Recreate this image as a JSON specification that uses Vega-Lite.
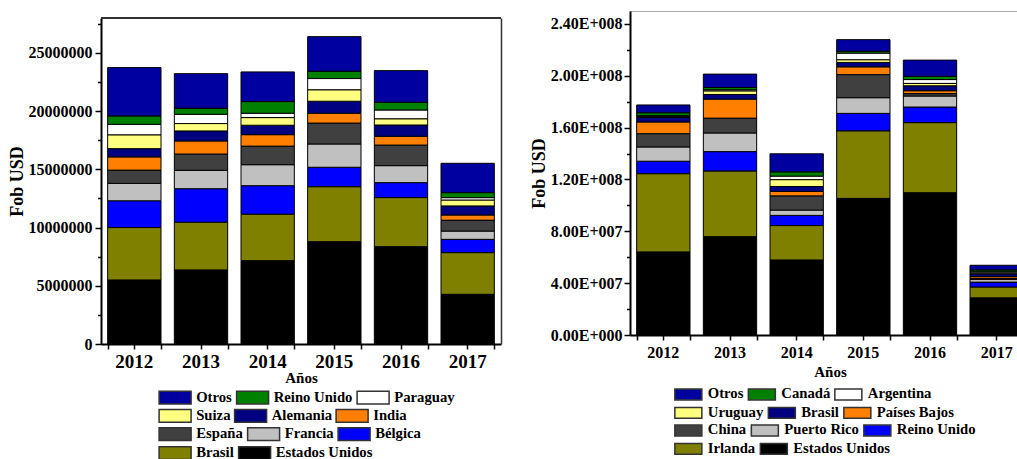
{
  "$schema": "https://vega.github.io/schema/vega-lite/v6.json",
  "background": "white",
  "padding": {"left": 8, "top": 10, "right": -14, "bottom": 0},
  "spacing": 27,
  "datasets": {
    "izq": [
      {"anio": "2012", "pais": "Estados Unidos", "n": 1, "fob": 5500000},
      {"anio": "2012", "pais": "Brasil", "n": 2, "fob": 4500000},
      {"anio": "2012", "pais": "Bélgica", "n": 3, "fob": 2300000},
      {"anio": "2012", "pais": "Francia", "n": 4, "fob": 1500000},
      {"anio": "2012", "pais": "España", "n": 5, "fob": 1120000},
      {"anio": "2012", "pais": "India", "n": 6, "fob": 1150000},
      {"anio": "2012", "pais": "Alemania", "n": 7, "fob": 710000},
      {"anio": "2012", "pais": "Suiza", "n": 8, "fob": 1170000},
      {"anio": "2012", "pais": "Paraguay", "n": 9, "fob": 920000},
      {"anio": "2012", "pais": "Reino Unido", "n": 10, "fob": 720000},
      {"anio": "2012", "pais": "Otros", "n": 11, "fob": 4150000},
      {"anio": "2013", "pais": "Estados Unidos", "n": 1, "fob": 6360000},
      {"anio": "2013", "pais": "Brasil", "n": 2, "fob": 4090000},
      {"anio": "2013", "pais": "Bélgica", "n": 3, "fob": 2890000},
      {"anio": "2013", "pais": "Francia", "n": 4, "fob": 1580000},
      {"anio": "2013", "pais": "España", "n": 5, "fob": 1380000},
      {"anio": "2013", "pais": "India", "n": 6, "fob": 1140000},
      {"anio": "2013", "pais": "Alemania", "n": 7, "fob": 860000},
      {"anio": "2013", "pais": "Suiza", "n": 8, "fob": 630000},
      {"anio": "2013", "pais": "Paraguay", "n": 9, "fob": 800000},
      {"anio": "2013", "pais": "Reino Unido", "n": 10, "fob": 520000},
      {"anio": "2013", "pais": "Otros", "n": 11, "fob": 2970000},
      {"anio": "2014", "pais": "Estados Unidos", "n": 1, "fob": 7160000},
      {"anio": "2014", "pais": "Brasil", "n": 2, "fob": 3980000},
      {"anio": "2014", "pais": "Bélgica", "n": 3, "fob": 2460000},
      {"anio": "2014", "pais": "Francia", "n": 4, "fob": 1800000},
      {"anio": "2014", "pais": "España", "n": 5, "fob": 1580000},
      {"anio": "2014", "pais": "India", "n": 6, "fob": 1000000},
      {"anio": "2014", "pais": "Alemania", "n": 7, "fob": 810000},
      {"anio": "2014", "pais": "Suiza", "n": 8, "fob": 650000},
      {"anio": "2014", "pais": "Paraguay", "n": 9, "fob": 380000},
      {"anio": "2014", "pais": "Reino Unido", "n": 10, "fob": 1000000},
      {"anio": "2014", "pais": "Otros", "n": 11, "fob": 2550000},
      {"anio": "2015", "pais": "Estados Unidos", "n": 1, "fob": 8790000},
      {"anio": "2015", "pais": "Brasil", "n": 2, "fob": 4710000},
      {"anio": "2015", "pais": "Bélgica", "n": 3, "fob": 1680000},
      {"anio": "2015", "pais": "Francia", "n": 4, "fob": 2000000},
      {"anio": "2015", "pais": "España", "n": 5, "fob": 1780000},
      {"anio": "2015", "pais": "India", "n": 6, "fob": 860000},
      {"anio": "2015", "pais": "Alemania", "n": 7, "fob": 1030000},
      {"anio": "2015", "pais": "Suiza", "n": 8, "fob": 970000},
      {"anio": "2015", "pais": "Paraguay", "n": 9, "fob": 980000},
      {"anio": "2015", "pais": "Reino Unido", "n": 10, "fob": 630000},
      {"anio": "2015", "pais": "Otros", "n": 11, "fob": 2970000},
      {"anio": "2016", "pais": "Estados Unidos", "n": 1, "fob": 8360000},
      {"anio": "2016", "pais": "Brasil", "n": 2, "fob": 4210000},
      {"anio": "2016", "pais": "Bélgica", "n": 3, "fob": 1290000},
      {"anio": "2016", "pais": "Francia", "n": 4, "fob": 1460000},
      {"anio": "2016", "pais": "España", "n": 5, "fob": 1750000},
      {"anio": "2016", "pais": "India", "n": 6, "fob": 770000},
      {"anio": "2016", "pais": "Alemania", "n": 7, "fob": 970000},
      {"anio": "2016", "pais": "Suiza", "n": 8, "fob": 520000},
      {"anio": "2016", "pais": "Paraguay", "n": 9, "fob": 770000},
      {"anio": "2016", "pais": "Reino Unido", "n": 10, "fob": 660000},
      {"anio": "2016", "pais": "Otros", "n": 11, "fob": 2720000},
      {"anio": "2017", "pais": "Estados Unidos", "n": 1, "fob": 4270000},
      {"anio": "2017", "pais": "Brasil", "n": 2, "fob": 3570000},
      {"anio": "2017", "pais": "Bélgica", "n": 3, "fob": 1150000},
      {"anio": "2017", "pais": "Francia", "n": 4, "fob": 710000},
      {"anio": "2017", "pais": "España", "n": 5, "fob": 920000},
      {"anio": "2017", "pais": "India", "n": 6, "fob": 460000},
      {"anio": "2017", "pais": "Alemania", "n": 7, "fob": 780000},
      {"anio": "2017", "pais": "Suiza", "n": 8, "fob": 490000},
      {"anio": "2017", "pais": "Paraguay", "n": 9, "fob": 220000},
      {"anio": "2017", "pais": "Reino Unido", "n": 10, "fob": 430000},
      {"anio": "2017", "pais": "Otros", "n": 11, "fob": 2520000}
    ],
    "der": [
      {"anio": "2012", "pais": "Estados Unidos", "n": 1, "fob": 64100000},
      {"anio": "2012", "pais": "Irlanda", "n": 2, "fob": 60300000},
      {"anio": "2012", "pais": "Reino Unido", "n": 3, "fob": 9700000},
      {"anio": "2012", "pais": "Puerto Rico", "n": 4, "fob": 11000000},
      {"anio": "2012", "pais": "China", "n": 5, "fob": 10100000},
      {"anio": "2012", "pais": "Países Bajos", "n": 6, "fob": 9200000},
      {"anio": "2012", "pais": "Brasil", "n": 7, "fob": 3400000},
      {"anio": "2012", "pais": "Uruguay", "n": 8, "fob": 800000},
      {"anio": "2012", "pais": "Argentina", "n": 9, "fob": 600000},
      {"anio": "2012", "pais": "Canadá", "n": 10, "fob": 2300000},
      {"anio": "2012", "pais": "Otros", "n": 11, "fob": 6000000},
      {"anio": "2013", "pais": "Estados Unidos", "n": 1, "fob": 75900000},
      {"anio": "2013", "pais": "Irlanda", "n": 2, "fob": 50500000},
      {"anio": "2013", "pais": "Reino Unido", "n": 3, "fob": 15100000},
      {"anio": "2013", "pais": "Puerto Rico", "n": 4, "fob": 14400000},
      {"anio": "2013", "pais": "China", "n": 5, "fob": 11300000},
      {"anio": "2013", "pais": "Países Bajos", "n": 6, "fob": 14800000},
      {"anio": "2013", "pais": "Brasil", "n": 7, "fob": 3600000},
      {"anio": "2013", "pais": "Uruguay", "n": 8, "fob": 2600000},
      {"anio": "2013", "pais": "Argentina", "n": 9, "fob": 1000000},
      {"anio": "2013", "pais": "Canadá", "n": 10, "fob": 1800000},
      {"anio": "2013", "pais": "Otros", "n": 11, "fob": 10300000},
      {"anio": "2014", "pais": "Estados Unidos", "n": 1, "fob": 57900000},
      {"anio": "2014", "pais": "Irlanda", "n": 2, "fob": 26500000},
      {"anio": "2014", "pais": "Reino Unido", "n": 3, "fob": 7900000},
      {"anio": "2014", "pais": "Puerto Rico", "n": 4, "fob": 4100000},
      {"anio": "2014", "pais": "China", "n": 5, "fob": 10800000},
      {"anio": "2014", "pais": "Países Bajos", "n": 6, "fob": 3600000},
      {"anio": "2014", "pais": "Brasil", "n": 7, "fob": 3800000},
      {"anio": "2014", "pais": "Uruguay", "n": 8, "fob": 5200000},
      {"anio": "2014", "pais": "Argentina", "n": 9, "fob": 2800000},
      {"anio": "2014", "pais": "Canadá", "n": 10, "fob": 3300000},
      {"anio": "2014", "pais": "Otros", "n": 11, "fob": 13900000},
      {"anio": "2015", "pais": "Estados Unidos", "n": 1, "fob": 105400000},
      {"anio": "2015", "pais": "Irlanda", "n": 2, "fob": 52000000},
      {"anio": "2015", "pais": "Reino Unido", "n": 3, "fob": 13600000},
      {"anio": "2015", "pais": "Puerto Rico", "n": 4, "fob": 12100000},
      {"anio": "2015", "pais": "China", "n": 5, "fob": 17700000},
      {"anio": "2015", "pais": "Países Bajos", "n": 6, "fob": 6100000},
      {"anio": "2015", "pais": "Brasil", "n": 7, "fob": 3400000},
      {"anio": "2015", "pais": "Uruguay", "n": 8, "fob": 2000000},
      {"anio": "2015", "pais": "Argentina", "n": 9, "fob": 5200000},
      {"anio": "2015", "pais": "Canadá", "n": 10, "fob": 1500000},
      {"anio": "2015", "pais": "Otros", "n": 11, "fob": 8900000},
      {"anio": "2016", "pais": "Estados Unidos", "n": 1, "fob": 109800000},
      {"anio": "2016", "pais": "Irlanda", "n": 2, "fob": 54000000},
      {"anio": "2016", "pais": "Reino Unido", "n": 3, "fob": 12100000},
      {"anio": "2016", "pais": "Puerto Rico", "n": 4, "fob": 8500000},
      {"anio": "2016", "pais": "China", "n": 5, "fob": 1800000},
      {"anio": "2016", "pais": "Países Bajos", "n": 6, "fob": 2300000},
      {"anio": "2016", "pais": "Brasil", "n": 7, "fob": 3800000},
      {"anio": "2016", "pais": "Uruguay", "n": 8, "fob": 1800000},
      {"anio": "2016", "pais": "Argentina", "n": 9, "fob": 3000000},
      {"anio": "2016", "pais": "Canadá", "n": 10, "fob": 2500000},
      {"anio": "2016", "pais": "Otros", "n": 11, "fob": 12500000},
      {"anio": "2017", "pais": "Estados Unidos", "n": 1, "fob": 28700000},
      {"anio": "2017", "pais": "Irlanda", "n": 2, "fob": 8200000},
      {"anio": "2017", "pais": "Reino Unido", "n": 3, "fob": 3900000},
      {"anio": "2017", "pais": "Puerto Rico", "n": 4, "fob": 2000000},
      {"anio": "2017", "pais": "China", "n": 5, "fob": 800000},
      {"anio": "2017", "pais": "Países Bajos", "n": 6, "fob": 1400000},
      {"anio": "2017", "pais": "Brasil", "n": 7, "fob": 2200000},
      {"anio": "2017", "pais": "Uruguay", "n": 8, "fob": 600000},
      {"anio": "2017", "pais": "Argentina", "n": 9, "fob": 1000000},
      {"anio": "2017", "pais": "Canadá", "n": 10, "fob": 1400000},
      {"anio": "2017", "pais": "Otros", "n": 11, "fob": 3600000}
    ]
  },
  "hconcat": [
    {
      "width": 400,
      "height": 333,
      "data": {"name": "izq"},
      "transform": [
        {"stack": "fob", "groupby": ["anio"], "sort": [{"field": "n", "order": "ascending"}], "as": ["y0", "y1"]}
      ],
      "view": {"stroke": null},
      "layer": [
        {
          "transform": [{"filter": {"field": "pais", "oneOf": ["Otros", "Reino Unido", "Paraguay"]}}],
          "mark": {"type": "bar", "stroke": "#000", "strokeWidth": 1},
          "encoding": {
            "x": {
              "field": "anio", "type": "ordinal",
              "scale": {"paddingInner": 0.2, "paddingOuter": 0.1},
              "axis": {"orient": "bottom", "labelAngle": 0, "labelFontSize": 19, "labelPadding": 3,
                       "tickSize": 5, "tickWidth": 1.5, "domainWidth": 2,
                       "title": "Años", "titleFontSize": 15, "titlePadding": -1}
            },
            "y": {
              "field": "y1", "type": "quantitative",
              "scale": {"domain": [0, 28000000], "nice": false, "range": [333, 7]},
              "axis": {"orient": "left", "values": [0, 5000000, 10000000, 15000000, 20000000, 25000000],
                       "format": "d", "labelFontSize": 16, "labelPadding": 3,
                       "tickSize": 6, "tickWidth": 1.5, "domainWidth": 2,
                       "title": "Fob USD", "titleFontSize": 18, "titlePadding": 2}
            },
            "y2": {"field": "y0"},
            "color": {
              "field": "pais", "type": "nominal",
              "scale": {"domain": ["Otros", "Reino Unido", "Paraguay"], "range": ["#0000A0", "#008000", "#FFFFFF"]},
              "legend": {"legendX": 66.6, "legendY": 379, "symbolSize": 163.84, "labelOffset": 13.6}
            }
          }
        },
        {
          "transform": [{"filter": {"field": "pais", "oneOf": ["Suiza", "Alemania", "India"]}}],
          "mark": {"type": "bar", "stroke": "#000", "strokeWidth": 1},
          "encoding": {
            "x": {"field": "anio", "type": "ordinal", "axis": null},
            "y": {"field": "y1", "type": "quantitative", "axis": null},
            "y2": {"field": "y0"},
            "color": {
              "field": "pais", "type": "nominal",
              "scale": {"domain": ["Suiza", "Alemania", "India"], "range": ["#FFFF80", "#000080", "#FF8000"]},
              "legend": {"legendX": 66.6, "legendY": 397.3, "symbolSize": 163.84, "labelOffset": 13.6}
            }
          }
        },
        {
          "transform": [{"filter": {"field": "pais", "oneOf": ["España", "Francia", "Bélgica"]}}],
          "mark": {"type": "bar", "stroke": "#000", "strokeWidth": 1},
          "encoding": {
            "x": {"field": "anio", "type": "ordinal", "axis": null},
            "y": {"field": "y1", "type": "quantitative", "axis": null},
            "y2": {"field": "y0"},
            "color": {
              "field": "pais", "type": "nominal",
              "scale": {"domain": ["España", "Francia", "Bélgica"], "range": ["#404040", "#C0C0C0", "#0000FF"]},
              "legend": {"legendX": 66.6, "legendY": 415.6, "symbolSize": 163.84, "labelOffset": 13.6}
            }
          }
        },
        {
          "transform": [{"filter": {"field": "pais", "oneOf": ["Brasil", "Estados Unidos"]}}],
          "mark": {"type": "bar", "stroke": "#000", "strokeWidth": 1},
          "encoding": {
            "x": {"field": "anio", "type": "ordinal", "axis": null},
            "y": {"field": "y1", "type": "quantitative", "axis": null},
            "y2": {"field": "y0"},
            "color": {
              "field": "pais", "type": "nominal",
              "scale": {"domain": ["Brasil", "Estados Unidos"], "range": ["#808000", "#000000"]},
              "legend": {"legendX": 66.6, "legendY": 434.6, "symbolSize": 163.84, "labelOffset": 13.6}
            }
          }
        },
        {
          "mark": {"type": "bar", "opacity": 0},
          "encoding": {
            "x": {
              "field": "anio", "type": "ordinal",
              "axis": {"orient": "bottom", "tickBand": "extent", "labels": false, "domain": false,
                       "tickSize": 5, "tickWidth": 1.5, "title": null}
            },
            "y": {
              "field": "y1", "type": "quantitative",
              "axis": {"orient": "left", "values": [2500000, 7500000, 12500000, 17500000, 22500000, 27500000],
                       "labels": false, "domain": false, "tickSize": 3.5, "tickWidth": 1.5, "title": null}
            },
            "y2": {"field": "y0"}
          }
        },
        {
          "mark": {"type": "rule", "color": "#333", "strokeWidth": 1.5},
          "encoding": {
            "y": {
              "datum": 28000000, "type": "quantitative",
              "axis": {"orient": "right", "labels": false, "ticks": false, "domain": true,
                       "domainColor": "#333", "domainWidth": 1.5, "title": null}
            }
          }
        }
      ],
      "resolve": {
        "axis": {"x": "independent", "y": "independent"},
        "scale": {"color": "independent"},
        "legend": {"color": "independent"}
      }
    },
    {
      "width": 400,
      "height": 324,
      "data": {"name": "der"},
      "transform": [
        {"stack": "fob", "groupby": ["anio"], "sort": [{"field": "n", "order": "ascending"}], "as": ["y0", "y1"]}
      ],
      "view": {"stroke": "#a8a8a8", "strokeWidth": 1},
      "layer": [
        {
          "transform": [{"filter": {"field": "pais", "oneOf": ["Otros", "Canadá", "Argentina"]}}],
          "mark": {"type": "bar", "stroke": "#000", "strokeWidth": 1},
          "encoding": {
            "x": {
              "field": "anio", "type": "ordinal",
              "scale": {"paddingInner": 0.2, "paddingOuter": 0.1},
              "axis": {"orient": "bottom", "labelAngle": 0, "labelFontSize": 16, "labelPadding": 4,
                       "tickSize": 5, "tickWidth": 1.5, "domainWidth": 2,
                       "title": "Años", "titleFontSize": 15, "titlePadding": 4}
            },
            "y": {
              "field": "y1", "type": "quantitative",
              "scale": {"domain": [0, 250000000], "nice": false},
              "axis": {"orient": "left", "values": [0, 40000000, 80000000, 120000000, 160000000, 200000000, 240000000],
                       "labelExpr": "datum.value == 0 ? '0.00E+000' : format(datum.value / pow(10, floor(log(datum.value) / LN10 + 1e-9)), '.2f') + 'E+' + pad(toString(floor(log(datum.value) / LN10 + 1e-9)), 3, '0', 'left')",
                       "labelFontSize": 16, "labelPadding": 2,
                       "tickSize": 6, "tickWidth": 1.5, "domainWidth": 2,
                       "title": "Fob USD", "titleFontSize": 18, "titlePadding": 2}
            },
            "y2": {"field": "y0"},
            "color": {
              "field": "pais", "type": "nominal",
              "scale": {"domain": ["Otros", "Canadá", "Argentina"], "range": ["#0000A0", "#008000", "#FFFFFF"]},
              "legend": {"legendX": 51, "legendY": 376, "symbolSize": 116.64, "labelOffset": 12.1}
            }
          }
        },
        {
          "transform": [{"filter": {"field": "pais", "oneOf": ["Uruguay", "Brasil", "Países Bajos"]}}],
          "mark": {"type": "bar", "stroke": "#000", "strokeWidth": 1},
          "encoding": {
            "x": {"field": "anio", "type": "ordinal", "axis": null},
            "y": {"field": "y1", "type": "quantitative", "axis": null},
            "y2": {"field": "y0"},
            "color": {
              "field": "pais", "type": "nominal",
              "scale": {"domain": ["Uruguay", "Brasil", "Países Bajos"], "range": ["#FFFF80", "#000080", "#FF8000"]},
              "legend": {"legendX": 51, "legendY": 394.3, "symbolSize": 116.64, "labelOffset": 12.1}
            }
          }
        },
        {
          "transform": [{"filter": {"field": "pais", "oneOf": ["China", "Puerto Rico", "Reino Unido"]}}],
          "mark": {"type": "bar", "stroke": "#000", "strokeWidth": 1},
          "encoding": {
            "x": {"field": "anio", "type": "ordinal", "axis": null},
            "y": {"field": "y1", "type": "quantitative", "axis": null},
            "y2": {"field": "y0"},
            "color": {
              "field": "pais", "type": "nominal",
              "scale": {"domain": ["China", "Puerto Rico", "Reino Unido"], "range": ["#404040", "#C0C0C0", "#0000FF"]},
              "legend": {"legendX": 51, "legendY": 412, "symbolSize": 116.64, "labelOffset": 12.1}
            }
          }
        },
        {
          "transform": [{"filter": {"field": "pais", "oneOf": ["Irlanda", "Estados Unidos"]}}],
          "mark": {"type": "bar", "stroke": "#000", "strokeWidth": 1},
          "encoding": {
            "x": {"field": "anio", "type": "ordinal", "axis": null},
            "y": {"field": "y1", "type": "quantitative", "axis": null},
            "y2": {"field": "y0"},
            "color": {
              "field": "pais", "type": "nominal",
              "scale": {"domain": ["Irlanda", "Estados Unidos"], "range": ["#808000", "#000000"]},
              "legend": {"legendX": 51, "legendY": 430.3, "symbolSize": 116.64, "labelOffset": 12.1}
            }
          }
        },
        {
          "mark": {"type": "bar", "opacity": 0},
          "encoding": {
            "x": {
              "field": "anio", "type": "ordinal",
              "axis": {"orient": "bottom", "tickBand": "extent", "labels": false, "domain": false,
                       "tickSize": 5, "tickWidth": 1.5, "title": null}
            },
            "y": {
              "field": "y1", "type": "quantitative",
              "axis": {"orient": "left", "values": [20000000, 60000000, 100000000, 140000000, 180000000, 220000000],
                       "labels": false, "domain": false, "tickSize": 3.5, "tickWidth": 1.5, "title": null}
            },
            "y2": {"field": "y0"}
          }
        }
      ],
      "resolve": {
        "axis": {"x": "independent", "y": "independent"},
        "scale": {"color": "independent"},
        "legend": {"color": "independent"}
      }
    }
  ],
  "resolve": {"scale": {"color": "independent"}, "legend": {"color": "independent"}},
  "config": {
    "font": "Liberation Serif",
    "axis": {"labelFont": "Liberation Serif", "titleFont": "Liberation Serif",
             "labelFontWeight": "bold", "titleFontWeight": "bold",
             "labelColor": "#000", "titleColor": "#000", "domainColor": "#000", "tickColor": "#000", "grid": false},
    "legend": {"title": null, "orient": "none", "direction": "horizontal",
               "labelFont": "Liberation Serif", "labelFontWeight": "bold", "labelFontSize": 14.7, "labelColor": "#000",
               "symbolType": "M-2.5,-1H2.5V1H-2.5Z", "columnPadding": 0.5, "padding": 0,
               "symbolStrokeColor": "#333", "symbolStrokeWidth": 1.5, "symbolOpacity": 1},
    "title": {"font": "Liberation Serif"}
  }
}
